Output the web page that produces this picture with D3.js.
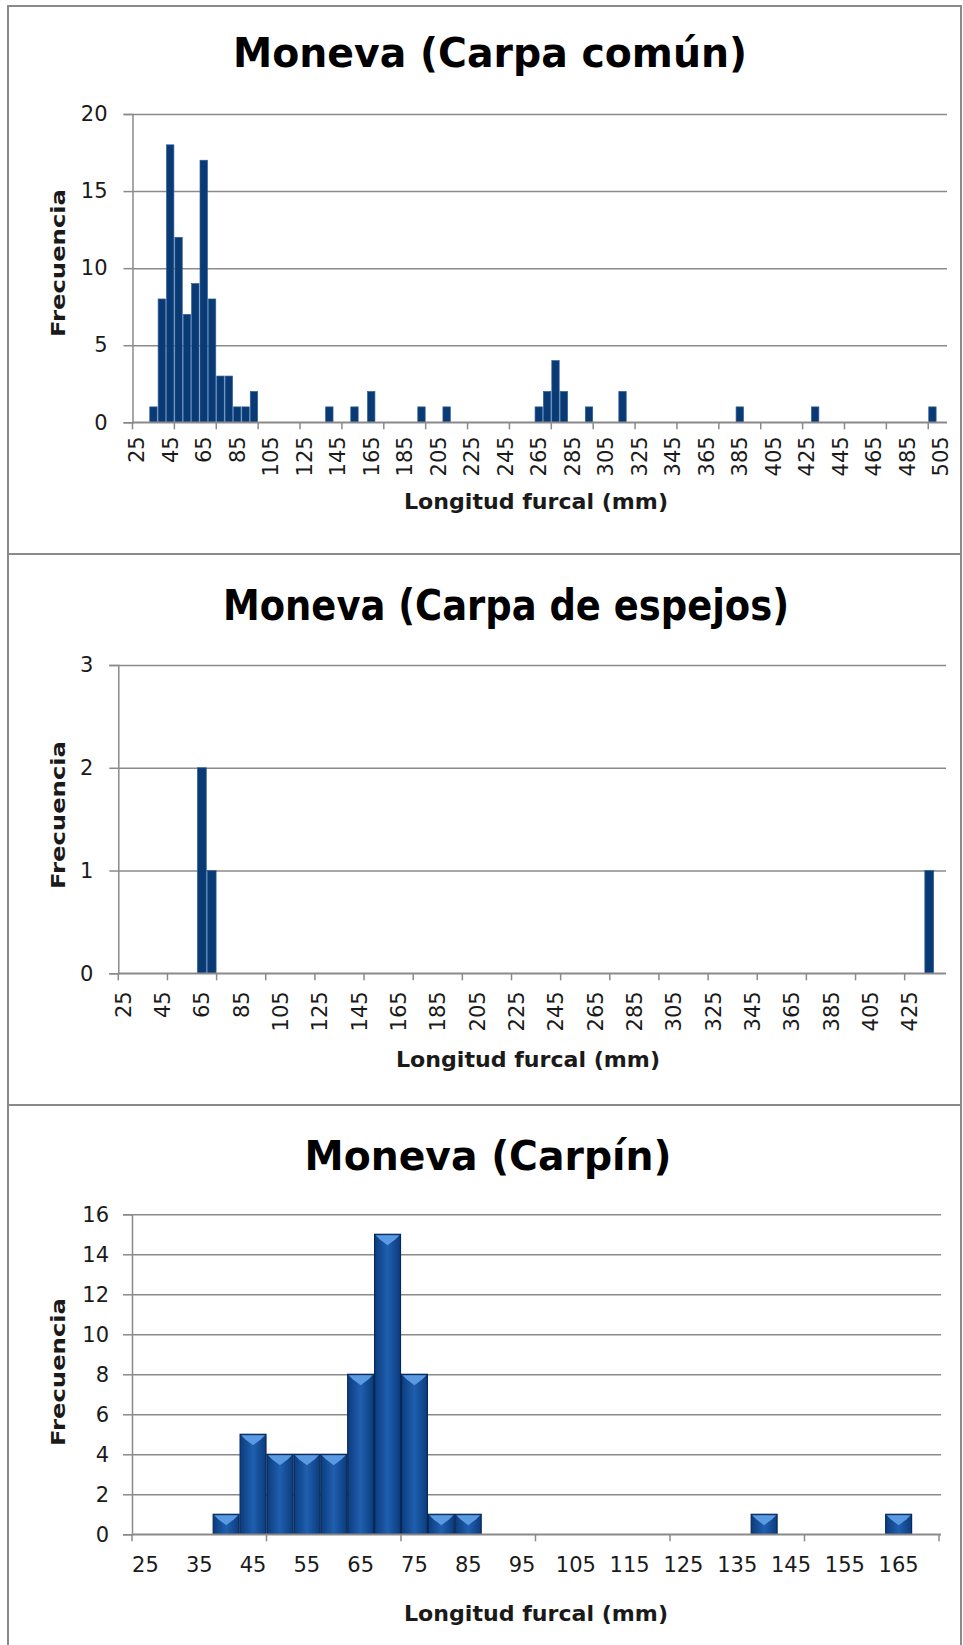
<!DOCTYPE html>
<html>
<head>
<meta charset="utf-8">
<script src="https://cdn.jsdelivr.net/npm/d3@7"></script>
<style>
  body { margin: 0; background: #fff; }
  text { font-family: "DejaVu Sans", Verdana, sans-serif; }
</style>
</head>
<body>
<div id="chart"></div>
<script>
// Moneva - Carpa común (bins de 5 mm, solo los que tienen frecuencia)
var comunBins = [35, 40, 45, 50, 55, 60, 65, 70, 75, 80, 85, 90, 95, 140, 155, 165, 195, 210, 265, 270, 275, 280, 295, 315, 385, 430, 500];
var comunFreq = [1, 8, 18, 12, 7, 9, 17, 8, 3, 3, 1, 1, 2, 1, 1, 2, 1, 1, 1, 2, 4, 2, 1, 2, 1, 1, 1];
var comunLabels = [25, 45, 65, 85, 105, 125, 145, 165, 185, 205, 225, 245, 265, 285, 305, 325, 345, 365, 385, 405, 425, 445, 465, 485, 505];
var comunYTicks = [0, 5, 10, 15, 20];

// Moneva - Carpa de espejos
var espejosBins = [65, 70, 435];
var espejosFreq = [2, 1, 1];
var espejosLabels = [25, 45, 65, 85, 105, 125, 145, 165, 185, 205, 225, 245, 265, 285, 305, 325, 345, 365, 385, 405, 425];
var espejosYTicks = [0, 1, 2, 3];

// Moneva - Carpín
var carpinBins = [40, 45, 50, 55, 60, 65, 70, 75, 80, 85, 140, 165];
var carpinFreq = [1, 5, 4, 4, 4, 8, 15, 8, 1, 1, 1, 1];
var carpinLabels = [25, 35, 45, 55, 65, 75, 85, 95, 105, 115, 125, 135, 145, 155, 165];
var carpinYTicks = [0, 2, 4, 6, 8, 10, 12, 14, 16];

var W = 963, H = 1645;
var gray = "#8a8a8a";

var svg = d3.select("#chart")
  .append("svg")
    .attr("width", W)
    .attr("height", H);

var defs = svg.append("defs");
var grad = defs.append("linearGradient")
    .attr("id", "barGrad")
    .attr("x1", "0%").attr("x2", "100%").attr("y1", "0%").attr("y2", "0%");
grad.append("stop").attr("offset", "0%").attr("stop-color", "#0c3c7c");
grad.append("stop").attr("offset", "50%").attr("stop-color", "#1f5fb0");
grad.append("stop").attr("offset", "100%").attr("stop-color", "#0c3c7c");

// marcos de los tres paneles
svg.append("rect")
    .attr("x", 8).attr("y", 6)
    .attr("width", 953).attr("height", H + 10)
    .attr("fill", "none")
    .attr("stroke", gray)
    .attr("stroke-width", 2);
[554, 1105].forEach(function(yy) {
  svg.append("line")
      .attr("x1", 8).attr("x2", 961)
      .attr("y1", yy).attr("y2", yy)
      .attr("stroke", gray)
      .attr("stroke-width", 2);
});

function drawPanel(p) {
  var cats = d3.range(p.catStart, p.catEnd + 1, 5);
  var x = d3.scaleBand()
    .domain(cats)
    .range([p.left, p.right])
    .padding(0);
  var y = d3.scaleLinear()
    .domain([0, p.yMax])
    .range([p.bottom, p.top]);

  var g = svg.append("g");

  // gridlines
  g.append("g")
    .attr("transform", "translate(" + p.left + ",0)")
    .call(d3.axisLeft(y).tickValues(p.yTicks).tickSize(-(p.right - p.left + 2)).tickFormat(""))
    .call(function(s) { s.select(".domain").remove(); })
    .selectAll("line")
      .attr("stroke", gray)
      .attr("stroke-width", 1.5);

  // y axis
  var ya = g.append("g")
    .attr("transform", "translate(" + p.left + ",0)")
    .call(d3.axisLeft(y).tickValues(p.yTicks).tickFormat(d3.format("d")).tickSize(9).tickPadding(p.yPad));
  ya.select(".domain").attr("stroke", gray).attr("stroke-width", 1.5);
  ya.selectAll(".tick line").attr("stroke", gray).attr("stroke-width", 1.5);
  ya.selectAll(".tick text")
    .attr("font-size", 21)
    .attr("fill", "#1a1a1a")
    .attr("font-family", "DejaVu Sans");

  // bars
  var data = p.bins.map(function(b, i) { return {bin: b, freq: p.freq[i]}; });
  var bw = x.bandwidth();
  g.selectAll("rect.bar")
    .data(data)
    .enter()
    .append("rect")
      .attr("class", "bar")
      .attr("x", function(d) { return x(d.bin) + 0.5; })
      .attr("y", function(d) { return y(d.freq); })
      .attr("width", bw - 1)
      .attr("height", function(d) { return y(0) - y(d.freq); })
      .attr("fill", p.bevel ? "url(#barGrad)" : "#0a3a74")
      .attr("stroke", p.bevel ? "#07295a" : "#2d5f9c")
      .attr("stroke-width", p.bevel ? 1.2 : 0.7);

  if (p.bevel) {
    g.selectAll("path.bevel")
      .data(data)
      .enter()
      .append("path")
        .attr("class", "bevel")
        .attr("d", function(d) {
          var x0 = x(d.bin) + 1.5, x1 = x(d.bin) + bw - 1.5, t = y(d.freq) + 1;
          var m = (x0 + x1) / 2;
          return "M" + x0 + "," + t + "L" + x1 + "," + t + "L" + (x1 - 4) + "," + (t + 4) +
                 "L" + m + "," + (t + 10) + "L" + (x0 + 4) + "," + (t + 4) + "Z";
        })
        .attr("fill", "#5a9ae2");
  }

  // x axis (line)
  g.append("line")
    .attr("x1", p.left).attr("x2", p.right + 2)
    .attr("y1", y(0)).attr("y2", y(0))
    .attr("stroke", gray)
    .attr("stroke-width", 1.5);

  // tick marks every 5 categories, at category boundaries
  var tickCats = cats.filter(function(c, i) { return i % 5 === 0; });
  var tickX = tickCats.map(function(c) { return x(c); });
  if (cats.length % 5 === 0) tickX.push(x.range()[1]);
  g.selectAll("line.xtick")
    .data(tickX)
    .enter()
    .append("line")
      .attr("class", "xtick")
      .attr("x1", function(d) { return d; })
      .attr("x2", function(d) { return d; })
      .attr("y1", y(0))
      .attr("y2", y(0) + 7)
      .attr("stroke", gray)
      .attr("stroke-width", 1.5);

  // category labels
  var lab = g.append("g")
    .attr("transform", "translate(0," + y(0) + ")")
    .call(d3.axisBottom(x).tickValues(p.labels).tickSize(0));
  lab.select(".domain").remove();
  var lt = lab.selectAll(".tick text")
    .attr("font-size", 21)
    .attr("fill", "#1a1a1a")
    .attr("font-family", "DejaVu Sans");
  if (p.rotate) {
    lt.attr("transform", "rotate(-90)")
      .attr("text-anchor", "end")
      .attr("x", -p.xPad)
      .attr("y", 0)
      .attr("dy", "0.36em");
  } else {
    lt.attr("y", p.xPad).attr("dy", "0.71em");
  }

  // titles
  svg.append("text")
    .attr("x", p.titleX)
    .attr("y", p.titleY)
    .attr("text-anchor", "middle")
    .attr("font-size", p.titleSize)
    .attr("font-weight", "bold")
    .attr("textLength", p.titleLen)
    .attr("lengthAdjust", "spacingAndGlyphs")
    .text(p.title);

  svg.append("text")
    .attr("x", p.xLabX)
    .attr("y", p.xLabY)
    .attr("text-anchor", "middle")
    .attr("font-size", 21)
    .attr("font-weight", "bold")
    .attr("fill", "#1a1a1a")
    .attr("textLength", 264)
    .attr("lengthAdjust", "spacingAndGlyphs")
    .text("Longitud furcal (mm)");

  svg.append("text")
    .attr("transform", "translate(" + 65 + "," + p.yLabY + ") rotate(-90)")
    .attr("text-anchor", "middle")
    .attr("font-size", 20)
    .attr("font-weight", "bold")
    .attr("fill", "#1a1a1a")
    .attr("textLength", 148)
    .attr("lengthAdjust", "spacingAndGlyphs")
    .text("Frecuencia");
}

drawPanel({
  bins: comunBins, freq: comunFreq, labels: comunLabels, yTicks: comunYTicks,
  catStart: 25, catEnd: 505, yMax: 20,
  left: 132.5, right: 945, top: 114, bottom: 422.3,
  yPad: 16, rotate: true, xPad: 14,
  title: "Moneva (Carpa común)", titleX: 490, titleY: 67, titleSize: 40, titleLen: 514,
  xLabX: 536, xLabY: 509, yLabY: 263
});

drawPanel({
  bins: espejosBins, freq: espejosFreq, labels: espejosLabels, yTicks: espejosYTicks,
  catStart: 25, catEnd: 440, yMax: 3,
  left: 118.3, right: 944, top: 665, bottom: 973.3,
  yPad: 16, rotate: true, xPad: 18,
  title: "Moneva (Carpa de espejos)", titleX: 506, titleY: 620, titleSize: 43, titleLen: 566,
  xLabX: 528, xLabY: 1067, yLabY: 815
});

drawPanel({
  bins: carpinBins, freq: carpinFreq, labels: carpinLabels, yTicks: carpinYTicks,
  catStart: 25, catEnd: 170, yMax: 16,
  left: 132, right: 939, top: 1214.3, bottom: 1534.3,
  yPad: 14, rotate: false, xPad: 23, bevel: true,
  title: "Moneva (Carpín)", titleX: 488, titleY: 1170, titleSize: 41, titleLen: 367,
  xLabX: 536, xLabY: 1621, yLabY: 1372
});
</script>
</body>
</html>
